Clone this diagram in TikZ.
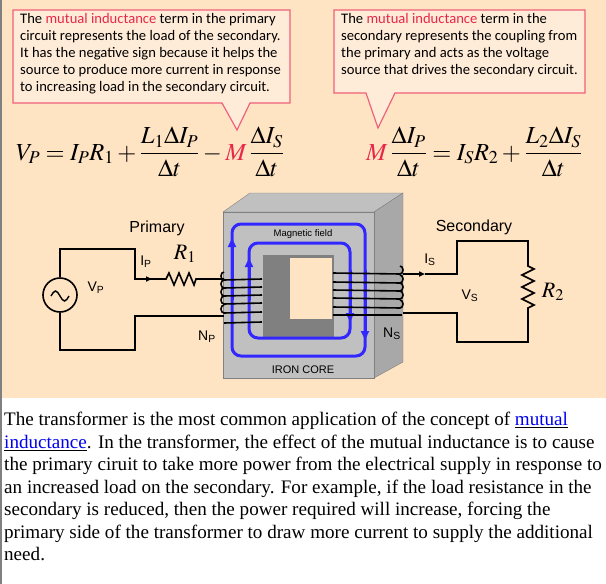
\documentclass[tikz,border=0pt]{standalone}
\usepackage{amsmath}
\usepackage{mathptmx}
\usepackage{fontspec}
\setmainfont{Liberation Serif}
\newfontfamily\calfont{Carlito}
\newfontfamily\hel{Liberation Sans}
\usetikzlibrary{arrows.meta}
\definecolor{peach}{RGB}{255,228,196}
\definecolor{boxfill}{RGB}{255,236,216}
\definecolor{pinkline}{RGB}{240,96,120}
\definecolor{mred}{RGB}{232,40,72}
\definecolor{coreg}{RGB}{192,192,192}
\definecolor{sideg}{RGB}{168,168,168}
\definecolor{darkg}{RGB}{128,128,128}
\definecolor{fblue}{RGB}{50,40,255}
\definecolor{linkb}{RGB}{0,0,238}
\tikzset{
  callout/.style={draw=pinkline,line width=1.2pt,fill=boxfill},
  ctext/.style={anchor=north west,font=\calfont\fontsize{14.6}{17}\selectfont,align=left,inner sep=0pt},
  body/.style={anchor=base west,inner sep=0pt,font=\fontsize{19.1}{22}\selectfont},
  wire/.style={line width=1.6pt,black},
  field/.style={draw=fblue,line width=3pt,rounded corners=9pt},
  lbl/.style={font=\hel\fontsize{14}{16}\selectfont,inner sep=0pt},
  eq/.style={font=\fontsize{24.5}{26}\selectfont,inner sep=0pt,anchor=base west},
}
\begin{document}
\begin{tikzpicture}[x=1pt,y=-1pt]
\useasboundingbox (0,0) rectangle (606,584);
\fill[peach] (0,0) rectangle (606,398);
\fill[white] (0,398) rectangle (606,584);
\fill[gray] (0,0) rectangle (2,584);
% callouts
\draw[callout] (13,10) -- (290,10) -- (290,103) -- (250,103) -- (237,130) -- (222,103) -- (13,103) -- cycle;
\node[ctext] (c1) at (20,13) {The {\color{mred}mutual inductance} term in the primary\\circuit represents the load of the secondary.\\It has the negative sign because it helps the\\source to produce more current in response\\to increasing load in the secondary circuit.};
\draw[callout] (334,10) -- (585,10) -- (585,93) -- (395,93) -- (378,128) -- (366,93) -- (334,93) -- cycle;
\node[ctext] (c2) at (341,13) {The {\color{mred}mutual inductance} term in the\\secondary represents the coupling from\\the primary and acts as the voltage\\source that drives the secondary circuit.};
% equations
\node[eq] (e1) at (16,160) {$V_P = I_P R_1 + \dfrac{L_1 \Delta I_P}{\Delta t} - {\color{mred}M}\,\dfrac{\Delta I_S}{\Delta t}$};
\node[eq] (e2) at (366,160) {${\color{mred}M}\,\dfrac{\Delta I_P}{\Delta t} = I_S R_2 + \dfrac{L_2 \Delta I_S}{\Delta t}$};
% core
\fill[coreg] (223,212) -- (250,193) -- (403,193) -- (374,212) -- cycle;
\draw[black!50] (223,212) -- (250,193) -- (403,193) -- (374,212) -- cycle;
\fill[sideg] (374,212) -- (403,193) -- (403,362) -- (374,378) -- cycle;
\draw[black!50] (374,212) -- (403,193) -- (403,362) -- (374,378) -- cycle;
\fill[coreg] (223,212) rectangle (374,378);
\draw[black!50] (223,212) rectangle (374,378);
\fill[darkg] (263,255) rectangle (334,337);
\fill[peach] (290,258) rectangle (332,319);
% field loops
\draw[field] (232,224) rectangle (365,356);
\draw[field] (249,243) rectangle (350,338);
\draw[fblue,line width=3pt,-{Triangle[length=9pt,width=8pt]}] (232,300) -- (232,238);
\draw[fblue,line width=3pt,-{Triangle[length=9pt,width=8pt]}] (249,300) -- (249,258);
\draw[fblue,line width=3pt,-{Triangle[length=9pt,width=8pt]}] (365,270) -- (365,340);
\draw[fblue,line width=3pt,-{Triangle[length=9pt,width=8pt]}] (350,270) -- (350,322);
\node[font=\hel\fontsize{9.5}{10}\selectfont,inner sep=0pt] (mf) at (303,234) {Magnetic field};
\node[font=\hel\fontsize{11}{12}\selectfont,inner sep=0pt] (ic) at (303,370) {IRON CORE};
% primary coil
\foreach \y in {279,287,295,303,312} {
  \draw[wire] (262,\y) -- (224,\y+1) arc[start angle=90,end angle=270,x radius=3,y radius=4];
}
\draw[wire] (262,322) -- (224,323);
% secondary coil
\foreach \y in {273,282,290,298,307} {
  \draw[wire] (333,\y) -- (400,\y+1) arc[start angle=90,end angle=-90,x radius=3,y radius=4];
}
\draw[wire] (333,315) -- (402,315);
% primary circuit
\node[draw,circle,line width=1.6pt,minimum size=34pt,inner sep=0pt] (src) at (60,295) {};
\draw[line width=1.4pt] (51,296) sin (55.5,291) cos (60,296) sin (64.5,301) cos (69,296);
\coordinate (pt1) at (135,249);
\coordinate (pt2) at (135,279);
\coordinate (rs) at (163,279);
\coordinate (re) at (198,279);
\coordinate (ct) at (224,279);
\draw[wire] (src.north) |- (pt1) -- (pt2) -- (rs);
\draw[wire,-{Triangle[length=6pt,width=5pt]}] (pt2) -- (152,279);
\draw[wire] (rs) -- (166,279) -- (169,273) -- (174,285) -- (179,273) -- (184,285) -- (189,273) -- (194,285) -- (196,279) -- (re) -- (ct);
\coordinate (pb1) at (135,350);
\coordinate (pb2) at (135,316);
\draw[wire] (src.south) |- (pb1) -- (pb2) -- (224,316);
\node[lbl,font=\hel\fontsize{16}{18}\selectfont] (prim) at (157,228) {Primary};
\node[lbl] (ip) at (146,262) {I\textsubscript{P}};
\node[inner sep=0pt,font=\fontsize{22}{24}\selectfont] (r1) at (185,254) {$R_1$};
\node[lbl] (vp) at (96,288) {V\textsubscript{P}};
\node[lbl] (np) at (207,337) {N\textsubscript{P}};
% secondary circuit
\coordinate (s0) at (403,274);
\coordinate (s1) at (457,274);
\coordinate (s2) at (457,241);
\coordinate (s3) at (528,241);
\coordinate (s4) at (528,342);
\coordinate (s5) at (457,342);
\coordinate (s6) at (457,313);
\coordinate (s7) at (403,313);
\draw[wire,-{Triangle[length=6pt,width=5pt]}] (s0) -- (425,274);
\draw[wire] (425,274) -- (s1) -- (s2) -- (s3) -- (528,266) -- (534,269) -- (522,275) -- (534,281) -- (522,287) -- (534,293) -- (522,299) -- (534,305) -- (528,308) -- (s4) -- (s5) -- (s6) -- (s7);
\node[lbl,font=\hel\fontsize{16}{18}\selectfont] (sec) at (474,227) {Secondary};
\node[lbl] (is) at (430,260) {I\textsubscript{S}};
\node[lbl] (vs) at (470,296) {V\textsubscript{S}};
\node[inner sep=0pt,font=\fontsize{22}{24}\selectfont] (r2) at (553,292) {$R_2$};
\node[lbl] (ns) at (392,334) {N\textsubscript{S}};
% body text
\node[body] (t1) at (4,425) {The transformer is the most common application of the concept of \underline{\color{linkb}mutual}};
\node[body] (t2) at (4,448) {\underline{\color{linkb}inductance}. In the transformer, the effect of the mutual inductance is to cause};
\node[body] (t3) at (4,470) {the primary ciruit to take more power from the electrical supply in response to};
\node[body] (t4) at (4,493) {an increased load on the secondary. For example, if the load resistance in the};
\node[body] (t5) at (4,515) {secondary is reduced, then the power required will increase, forcing the};
\node[body] (t6) at (4,538) {primary side of the transformer to draw more current to supply the additional};
\node[body] (t7) at (4,560) {need.};
\end{tikzpicture}
\end{document}
